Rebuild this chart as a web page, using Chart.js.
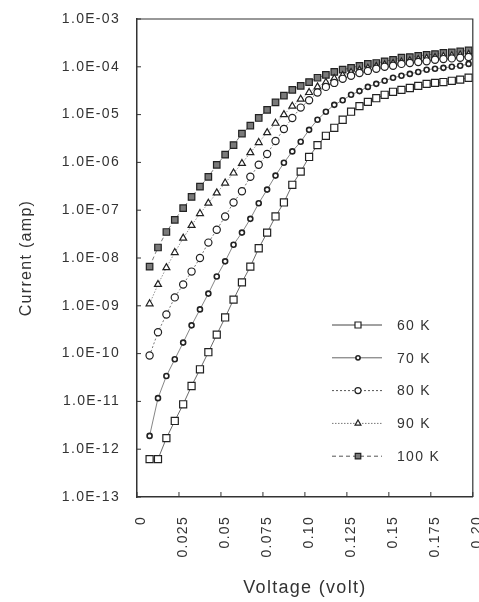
<!DOCTYPE html>
<html>
<head>
<meta charset="utf-8">
<script src="https://cdn.jsdelivr.net/npm/chart.js@4.4.1/dist/chart.umd.min.js"></script>
<style>
  html, body { margin: 0; padding: 0; background: #fff; overflow: hidden; }
  #wrap { width: 479px; height: 602px; }
</style>
</head>
<body>
<div id="wrap"><canvas id="chart" width="479" height="602"></canvas></div>
<script>
// I-V curves, log current vs voltage, five temperatures
const voltage = [0.0075, 0.0125, 0.0175, 0.0225, 0.0275, 0.0325, 0.0375, 0.0425, 0.0475, 0.0525,
  0.0575, 0.0625, 0.0675, 0.0725, 0.0775, 0.0825, 0.0875, 0.0925, 0.0975, 0.1025,
  0.1075, 0.1125, 0.1175, 0.1225, 0.1275, 0.1325, 0.1375, 0.1425, 0.1475, 0.1525,
  0.1575, 0.1625, 0.1675, 0.1725, 0.1775, 0.1825, 0.1875, 0.1925, 0.1975];

const current60K = [6.2e-13, 6.2e-13, 1.7e-12, 3.9e-12, 8.7e-12, 2.1e-11, 4.7e-11, 1.07e-10, 2.5e-10, 5.7e-10,
  1.35e-9, 3.1e-9, 6.6e-9, 1.6e-8, 3.4e-8, 7.4e-8, 1.45e-7, 3.4e-7, 6.4e-7, 1.3e-6,
  2.3e-6, 3.6e-6, 5.3e-6, 7.8e-6, 1.15e-5, 1.5e-5, 1.85e-5, 2.2e-5, 2.6e-5, 3.0e-5,
  3.3e-5, 3.6e-5, 4.0e-5, 4.4e-5, 4.6e-5, 4.8e-5, 5.1e-5, 5.4e-5, 5.9e-5];
const current70K = [1.9e-12, 1.17e-11, 3.4e-11, 7.6e-11, 1.7e-10, 3.9e-10, 8.4e-10, 1.8e-9, 4.1e-9, 8.5e-9,
  1.9e-8, 3.4e-8, 6.6e-8, 1.4e-7, 2.7e-7, 5.3e-7, 9.8e-7, 1.7e-6, 2.7e-6, 4.8e-6,
  7.8e-6, 1.15e-5, 1.6e-5, 2.0e-5, 2.6e-5, 3.1e-5, 3.8e-5, 4.4e-5, 5.1e-5, 5.9e-5,
  6.5e-5, 7.1e-5, 7.8e-5, 8.7e-5, 9.1e-5, 9.5e-5, 1.0e-4, 1.05e-4, 1.15e-4];
const current80K = [9.1e-11, 2.8e-10, 6.6e-10, 1.5e-9, 2.8e-9, 5.2e-9, 1.0e-8, 2.1e-8, 3.9e-8, 7.4e-8,
  1.45e-7, 2.5e-7, 5.0e-7, 8.9e-7, 1.5e-6, 2.8e-6, 5.0e-6, 8.5e-6, 1.4e-5, 2.0e-5,
  2.9e-5, 3.8e-5, 4.6e-5, 5.6e-5, 6.5e-5, 7.4e-5, 8.2e-5, 9.1e-5, 1.0e-4, 1.05e-4,
  1.15e-4, 1.2e-4, 1.26e-4, 1.3e-4, 1.4e-4, 1.45e-4, 1.5e-4, 1.55e-4, 1.6e-4];
const current90K = [1.1e-9, 2.8e-9, 6.3e-9, 1.3e-8, 2.6e-8, 4.8e-8, 8.5e-8, 1.4e-7, 2.3e-7, 3.7e-7,
  6.0e-7, 9.5e-7, 1.6e-6, 2.6e-6, 4.2e-6, 6.6e-6, 1.0e-5, 1.5e-5, 2.1e-5, 2.9e-5,
  3.8e-5, 4.7e-5, 5.7e-5, 6.6e-5, 7.6e-5, 8.5e-5, 9.3e-5, 1.02e-4, 1.1e-4, 1.18e-4,
  1.26e-4, 1.34e-4, 1.42e-4, 1.5e-4, 1.57e-4, 1.64e-4, 1.7e-4, 1.76e-4, 1.82e-4];
const current100K = [6.6e-9, 1.66e-8, 3.5e-8, 6.3e-8, 1.1e-7, 1.9e-7, 3.1e-7, 5.0e-7, 8.9e-7, 1.45e-6,
  2.3e-6, 4.0e-6, 5.9e-6, 8.5e-6, 1.26e-5, 1.8e-5, 2.5e-5, 3.3e-5, 4.0e-5, 4.8e-5,
  5.9e-5, 6.8e-5, 7.8e-5, 8.7e-5, 9.5e-5, 1.05e-4, 1.15e-4, 1.2e-4, 1.3e-4, 1.4e-4,
  1.55e-4, 1.6e-4, 1.7e-4, 1.78e-4, 1.85e-4, 1.95e-4, 2.0e-4, 2.1e-4, 2.2e-4];

const seriesLabels = ["60 K", "70 K", "80 K", "90 K", "100 K"];

const yTickValues = [1e-13, 1e-12, 1e-11, 1e-10, 1e-9, 1e-8, 1e-7, 1e-6, 1e-5, 1e-4, 1e-3];
const yTickLabels = ["1.0E-13", "1.0E-12", "1.0E-11", "1.0E-10", "1.0E-09", "1.0E-08",
  "1.0E-07", "1.0E-06", "1.0E-05", "1.0E-04", "1.0E-03"];
const xTickValues = [0, 0.025, 0.05, 0.075, 0.1, 0.125, 0.15, 0.175, 0.2];
const xTickLabels = ["0", "0.025", "0.05", "0.075", "0.10", "0.125", "0.15", "0.175", "0.20"];

const FONT = '"Liberation Sans", Arial, Helvetica, sans-serif';
const INK = "#333";

function pts(arr) {
  return voltage.map((v, i) => ({ x: v, y: arr[i] }));
}

function series(label, arr, style) {
  return Object.assign({
    label: label,
    data: pts(arr),
    borderColor: "#555",
    borderWidth: 0.8,
    pointBorderColor: "#222",
    pointBackgroundColor: "#fff",
    pointBorderWidth: 1.2,
    tension: 0,
  }, style);
}

const spacing = {
  id: "spacing",
  beforeLayout(chart) { chart.ctx.letterSpacing = "1.3px"; },
  beforeDraw(chart) {
    const ctx = chart.ctx;
    ctx.letterSpacing = "1.3px";
    ctx.save();
    ctx.fillStyle = "#fff";
    ctx.fillRect(0, 0, chart.width, chart.height);
    ctx.restore();
  },
};

const frame = {
  id: "frame",
  afterDraw(chart) {
    const { ctx, chartArea: a, scales } = chart;
    ctx.save();
    ctx.strokeStyle = INK;
    ctx.lineWidth = 1.2;
    ctx.beginPath();
    ctx.moveTo(a.left, a.top);
    ctx.lineTo(a.right, a.top);
    ctx.lineTo(a.right, a.bottom);
    ctx.stroke();

    // inward tick marks
    ctx.lineWidth = 1;
    ctx.beginPath();
    yTickValues.forEach(v => {
      const p = scales.y.getPixelForValue(v);
      ctx.moveTo(a.left, p);
      ctx.lineTo(a.left + 4, p);
    });
    xTickValues.forEach(v => {
      const p = scales.x.getPixelForValue(v);
      ctx.moveTo(p, a.bottom);
      ctx.lineTo(p, a.bottom - 5);
    });
    ctx.stroke();

    // legend inside plot
    const x0 = 332, x1 = 382, mx = 358, tx = 397, y0 = 325, dy = 32.8;
    chart.data.datasets.forEach((ds, i) => {
      const y = y0 + i * dy;
      ctx.strokeStyle = ds.borderColor;
      ctx.lineWidth = 1;
      ctx.setLineDash(ds.borderDash || []);
      ctx.beginPath();
      ctx.moveTo(x0, y);
      ctx.lineTo(x1, y);
      ctx.stroke();
      ctx.setLineDash([]);
      ctx.fillStyle = ds.pointBackgroundColor;
      ctx.strokeStyle = ds.pointBorderColor;
      ctx.lineWidth = ds.pointBorderWidth;
      Chart.helpers.drawPoint(ctx, {
        pointStyle: ds.pointStyle, radius: ds.pointRadius * 0.85,
        rotation: 0, borderWidth: ds.pointBorderWidth,
      }, mx, y);
      ctx.fillStyle = INK;
      ctx.font = "14px " + FONT;
      ctx.textBaseline = "middle";
      ctx.textAlign = "left";
      ctx.fillText(seriesLabels[i], tx, y + 1);
    });
    ctx.restore();
  },
};

new Chart(document.getElementById("chart"), {
  type: "line",
  data: {
    datasets: [
      series(seriesLabels[0], current60K, { pointStyle: "rect", pointRadius: 5, borderColor: "#444" }),
      series(seriesLabels[1], current70K, { pointStyle: "circle", pointRadius: 2.5, pointBorderWidth: 1.6, borderColor: "#666" }),
      series(seriesLabels[2], current80K, { pointStyle: "circle", pointRadius: 3.6, borderDash: [2, 2] }),
      series(seriesLabels[3], current90K, { pointStyle: "triangle", pointRadius: 4, borderDash: [1.5, 1.5], borderColor: "#777" }),
      series(seriesLabels[4], current100K, { pointStyle: "rect", pointRadius: 4.6, pointBackgroundColor: "#7a7a7a", borderDash: [4, 3] }),
    ],
  },
  options: {
    responsive: false,
    animation: false,
    devicePixelRatio: 1,
    layout: { padding: { top: 19, right: 5, bottom: 0, left: 0 } },
    plugins: {
      legend: { display: false },
      tooltip: { enabled: false },
    },
    scales: {
      x: {
        type: "linear",
        min: 0,
        max: 0.2,
        grid: { display: false },
        border: { display: true, color: INK, width: 1.5 },
        afterBuildTicks: s => { s.ticks = xTickValues.map(v => ({ value: v })); },
        afterFit: s => { s.height = 105; s.paddingLeft = 0; s.paddingRight = 0; },
        ticks: {
          autoSkip: false,
          maxRotation: 90,
          minRotation: 90,
          padding: 11,
          labelOffset: 4,
          color: INK,
          font: { family: FONT, size: 14 },
          callback: (v, i) => xTickLabels[i],
        },
        title: {
          display: true,
          text: "Voltage (volt)",
          color: INK,
          font: { family: FONT, size: 18 },
          padding: { top: 0, bottom: 3 },
        },
      },
      y: {
        type: "logarithmic",
        min: 1e-13,
        max: 1e-3,
        grid: { display: false },
        border: { display: true, color: INK, width: 1.5 },
        afterBuildTicks: s => { s.ticks = yTickValues.map(v => ({ value: v })); },
        afterFit: s => { s.width = 137; s.paddingTop = 0; s.paddingBottom = 0; },
        ticks: {
          autoSkip: false,
          padding: 9,
          color: INK,
          font: { family: FONT, size: 14 },
          callback: (v, i) => yTickLabels[i],
        },
        title: {
          display: true,
          text: "Current (amp)",
          color: INK,
          font: { family: FONT, size: 16 },
          padding: { top: 17, bottom: 0 },
        },
      },
    },
  },
  plugins: [spacing, frame],
});
</script>
</body>
</html>
